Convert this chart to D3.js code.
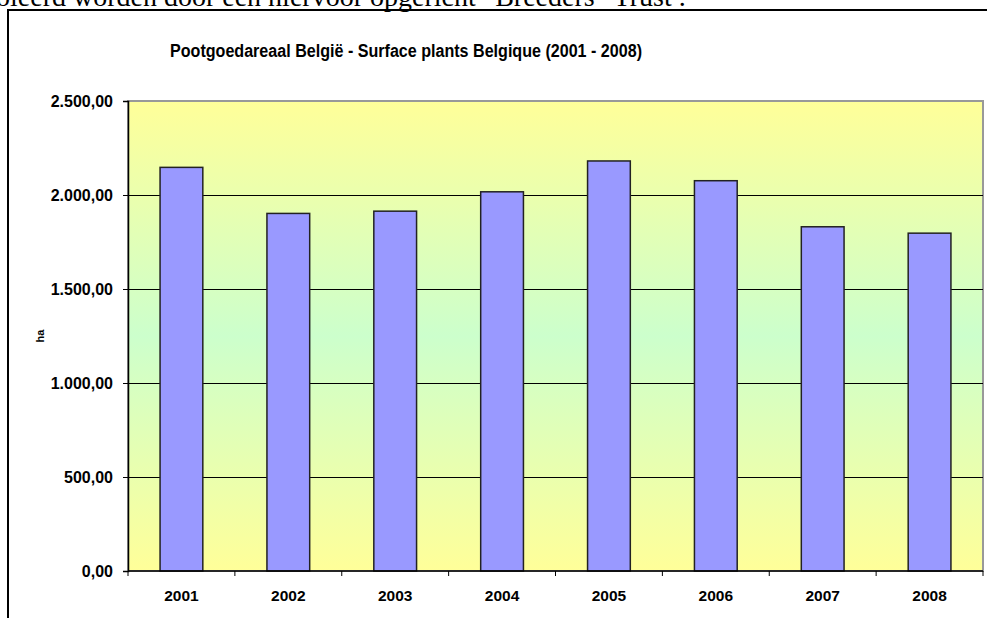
<!DOCTYPE html>
<html>
  <head>
    <meta charset="utf-8">
    <title>Pootgoedareaal België</title>
    <script src="https://cdn.jsdelivr.net/npm/d3@7/dist/d3.min.js"></script>
    <style>
    html, body { margin: 0; padding: 0; background: #fff; }
    svg { display: block; font-family: 'Liberation Sans', Arial, sans-serif; }
    .tick text { font-weight: bold; fill: #000; font-family: 'Liberation Sans', Arial, sans-serif; }
    .yax .tick text { font-size: 16px; }
    .xax .tick text { font-size: 15.5px; }
    </style>
  </head>
  <body>
    <div id="vis"></div>
    <script>
      // data
      var years = ['2001', '2002', '2003', '2004', '2005', '2006', '2007', '2008'];
      var area = [2147, 1902, 1914, 2017, 2181, 2076, 1831, 1797];
      var yTicks = [0, 500, 1000, 1500, 2000, 2500];

      var W = 987, H = 618;
      var plot = {left: 128, top: 101, right: 983, bottom: 571};

      var svg = d3.select('#vis').append('svg')
          .attr('width', W)
          .attr('height', H);

      // cut-off line of text from the page above the chart
      svg.append('text')
          .attr('x', -4)
          .attr('y', 6)
          .style('font-family', "'Liberation Serif', 'Times New Roman', serif")
          .style('font-size', '28px')
          .text('oleerd worden door een hiervoor opgericht \u201cBreeders\u201d Trust .');

      // chart frame (left and top edges visible)
      svg.append('path')
          .attr('d', 'M8,' + H + 'V10H' + W)
          .attr('fill', 'none')
          .attr('stroke', '#000')
          .attr('stroke-width', 2);

      svg.append('text')
          .attr('x', 406)
          .attr('y', 57)
          .attr('text-anchor', 'middle')
          .attr('textLength', 472)
          .attr('lengthAdjust', 'spacingAndGlyphs')
          .style('font-weight', 'bold')
          .style('font-size', '17.5px')
          .text('Pootgoedareaal België - Surface plants Belgique (2001 - 2008)');

      var defs = svg.append('defs');
      var grad = defs.append('linearGradient')
          .attr('id', 'bg')
          .attr('x1', 0).attr('y1', 0).attr('x2', 0).attr('y2', 1);
      grad.append('stop').attr('offset', '0%').attr('stop-color', '#ffff99');
      grad.append('stop').attr('offset', '50%').attr('stop-color', '#ccffcc');
      grad.append('stop').attr('offset', '100%').attr('stop-color', '#ffff99');

      var x = d3.scaleBand()
          .domain(years)
          .range([plot.left, plot.right])
          .paddingInner(0.6)
          .paddingOuter(0.3);

      var y = d3.scaleLinear()
          .domain([0, 2500])
          .range([plot.bottom, plot.top]);

      svg.append('rect')
          .attr('x', plot.left)
          .attr('y', plot.top)
          .attr('width', plot.right - plot.left)
          .attr('height', plot.bottom - plot.top)
          .attr('fill', 'url(#bg)')
          .attr('stroke', '#999')
          .attr('stroke-width', 2);

      // gridlines
      svg.selectAll('line.grid')
          .data(yTicks.slice(1, -1))
          .enter()
          .append('line')
          .attr('class', 'grid')
          .attr('x1', plot.left)
          .attr('x2', plot.right)
          .attr('y1', function(d) { return Math.round(y(d)) + 0.5; })
          .attr('y2', function(d) { return Math.round(y(d)) + 0.5; })
          .attr('stroke', '#000')
          .attr('stroke-width', 1);

      svg.selectAll('rect.bar')
          .data(area)
          .enter()
          .append('rect')
          .attr('class', 'bar')
          .attr('x', function(d, i) { return x(years[i]); })
          .attr('y', function(d) { return y(d); })
          .attr('width', x.bandwidth())
          .attr('height', function(d) { return y(0) - y(d); })
          .attr('fill', '#9999ff')
          .attr('stroke', '#222')
          .attr('stroke-width', 1.5);

      var fmt = function(d) {
        return d3.format(',.2f')(d).replace(/,/g, '#').replace('.', ',').replace(/#/g, '.');
      };

      var yAxis = svg.append('g')
          .attr('class', 'yax')
          .attr('transform', 'translate(' + plot.left + ',0)')
          .call(d3.axisLeft(y).tickValues(yTicks).tickSize(5).tickPadding(10).tickFormat(fmt));
      yAxis.select('.domain').attr('stroke', '#000').attr('stroke-width', 1.5);

      var xAxis = svg.append('g')
          .attr('class', 'xax')
          .attr('transform', 'translate(0,' + plot.bottom + ')')
          .call(d3.axisBottom(x).tickSize(0).tickPadding(19));
      xAxis.select('.domain').remove();

      svg.append('line')
          .attr('x1', plot.left).attr('x2', plot.right)
          .attr('y1', plot.bottom).attr('y2', plot.bottom)
          .attr('stroke', '#000').attr('stroke-width', 1.5);

      // category separator ticks
      var step = x.step();
      svg.selectAll('line.xtick')
          .data(d3.range(years.length + 1))
          .enter()
          .append('line')
          .attr('class', 'xtick')
          .attr('x1', function(i) { return plot.left + i * step; })
          .attr('x2', function(i) { return plot.left + i * step; })
          .attr('y1', plot.bottom)
          .attr('y2', plot.bottom + 5)
          .attr('stroke', '#000');

      svg.append('text')
          .attr('transform', 'translate(44,336) rotate(-90)')
          .attr('text-anchor', 'middle')
          .style('font-weight', 'bold')
          .style('font-size', '11px')
          .text('ha');
    </script>
  </body>
</html>
